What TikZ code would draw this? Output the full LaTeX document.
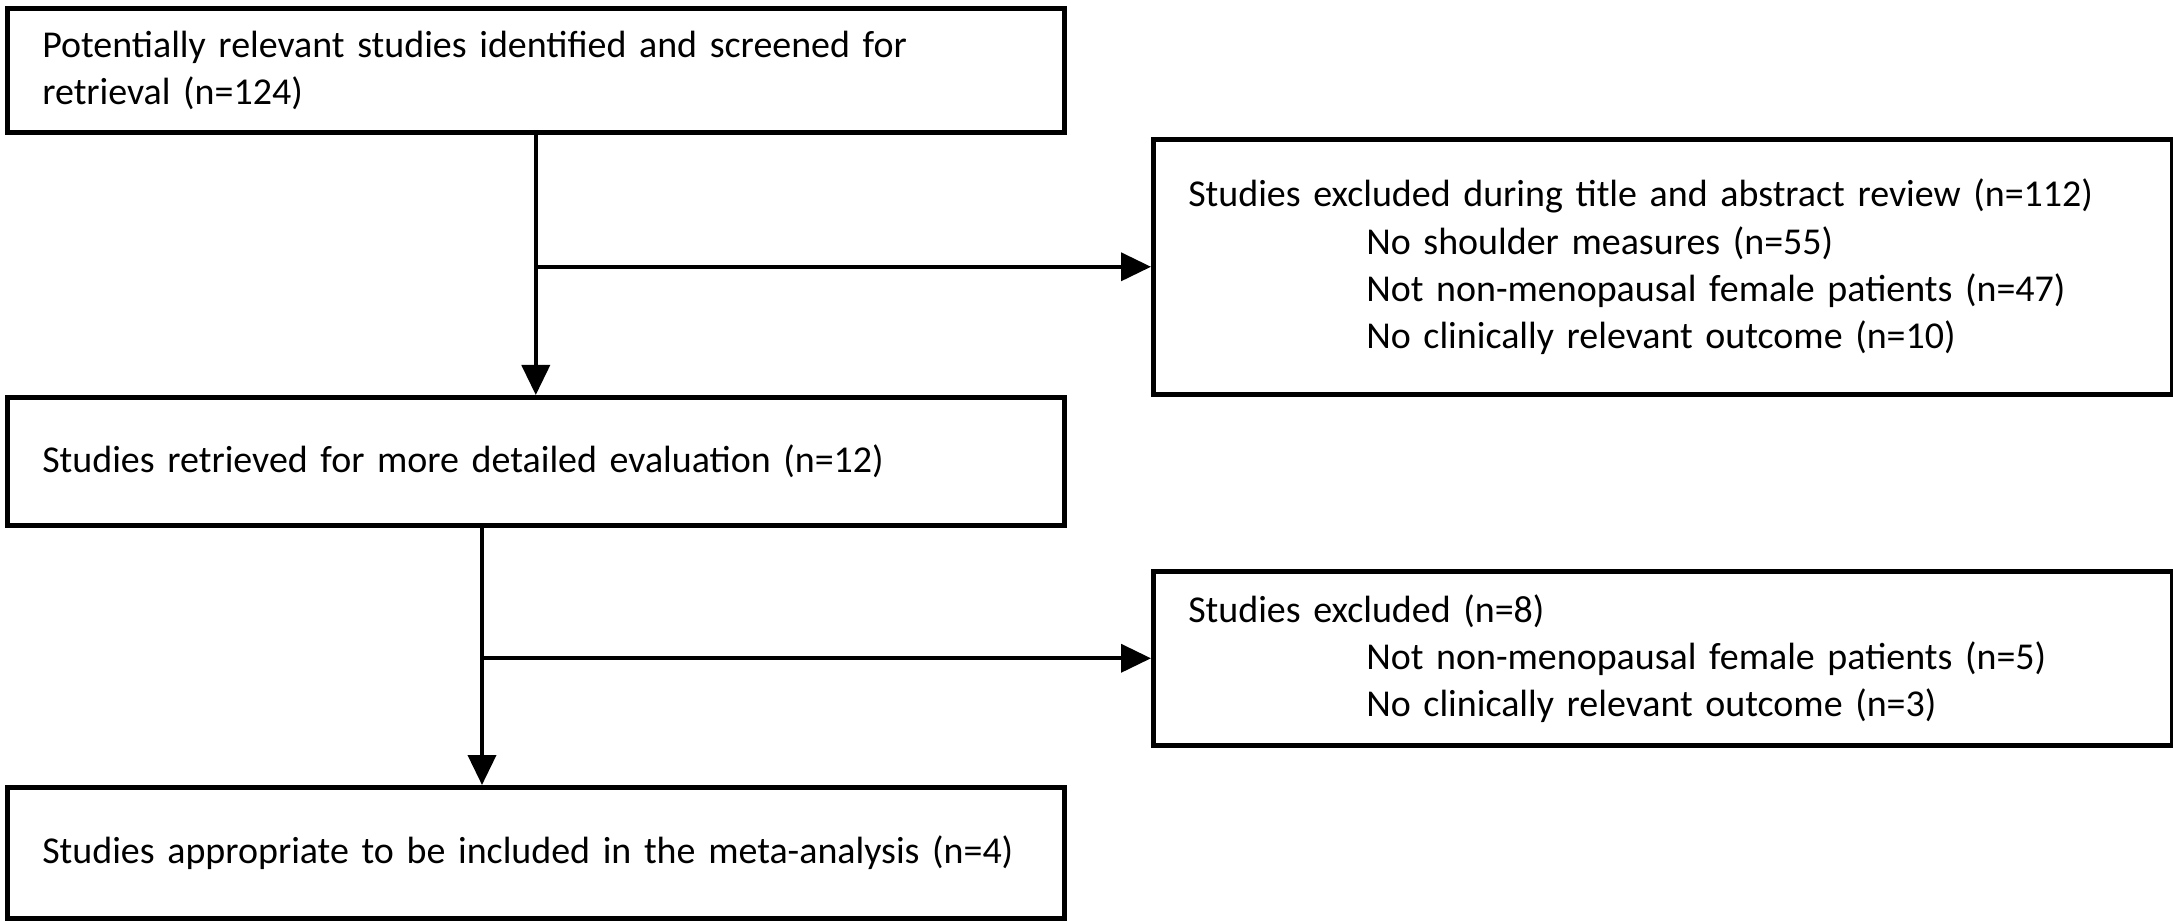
\documentclass[tikz,border=0pt]{standalone}
\usepackage{fontspec}
\setmainfont{Carlito}
\usetikzlibrary{arrows.meta,calc,positioning}

\newcommand{\reason}{\hspace*{1.78cm}}

\begin{document}
\begin{tikzpicture}[>={Triangle[length=0.3cm,width=0.28cm]},
  stage/.style={draw,line width=1.3pt,rectangle,anchor=north west,align=left,
    inner xsep=0.35cm,inner ysep=0pt,minimum width=10.57cm,text width=9.87cm,
    font=\fontsize{10.8}{13.4}\selectfont},
  excluded/.style={stage,minimum width=10.19cm,text width=9.49cm},
  flow/.style={->,line width=1.1pt}]
  \useasboundingbox (0,0) rectangle (21.73,-9.21);
  % Main column
  \node[stage,minimum height=1.24cm] (ident) at (0.05,-0.06)
    {Potentially relevant studies identified and screened for\\retrieval (n=124)};
  \node[stage,minimum height=1.28cm] (retr) at (0.05,-3.95)
    {Studies retrieved for more detailed evaluation (n=12)};
  \node[stage,minimum height=1.31cm] (incl) at (0.05,-7.85)
    {Studies appropriate to be included in the meta-analysis (n=4)};
  % Exclusion boxes
  \node[excluded,minimum height=2.55cm] (excl1) at (11.51,-1.37)
    {Studies excluded during title and abstract review (n=112)\\
     \reason No shoulder measures (n=55)\\
     \reason Not non-menopausal female patients (n=47)\\
     \reason No clinically relevant outcome (n=10)};
  \node[excluded,minimum height=1.74cm] (excl2) at (11.51,-5.69)
    {Studies excluded (n=8)\\
     \reason Not non-menopausal female patients (n=5)\\
     \reason No clinically relevant outcome (n=3)};
  % Arrows
  \coordinate (split) at (4.82,-6.57);
  \draw[flow] (ident.south) -- (retr.north -| ident.south);
  \draw[flow] (ident.south |- excl1.west) -- (excl1.west);
  \draw[flow] (retr.south -| split) -- (incl.north -| split);
  \draw[flow] (split |- excl2.west) -- (excl2.west);
\end{tikzpicture}
\end{document}
